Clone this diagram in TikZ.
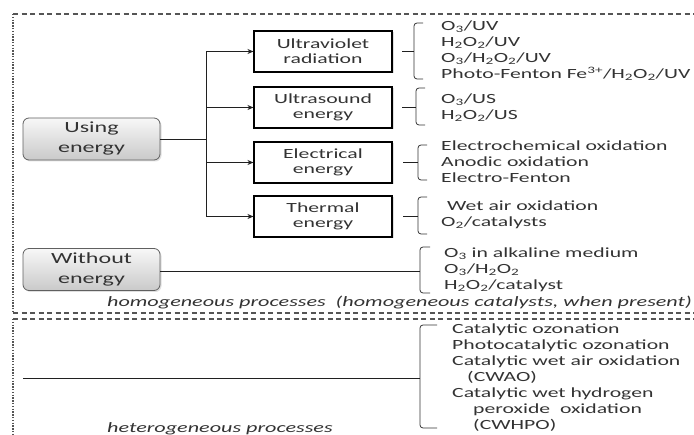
\documentclass[tikz,border=0pt]{standalone}
\usepackage{fontspec}
\setmainfont{Carlito}[FakeStretch=1.55]
\usetikzlibrary{arrows.meta,shadows}

\definecolor{ink}{HTML}{333333}
\definecolor{frame}{HTML}{555555}

\tikzset{
  energybox/.style={rounded corners=6pt, draw=gray!75!black, line width=0.8pt,
    top color=gray!6, bottom color=gray!42, minimum width=137pt, minimum height=42pt,
    inner sep=0pt, align=center, text=ink, font=\fontsize{15.5}{20}\selectfont,
    drop shadow={shadow xshift=1.5pt, shadow yshift=-1.5pt, opacity=0.25}},
  kindbox/.style={draw=black, line width=1.1pt, fill=white, minimum width=138pt,
    minimum height=41pt, inner sep=0pt, align=center, text=ink,
    font=\fontsize{14}{15}\selectfont,
    drop shadow={shadow xshift=1.5pt, shadow yshift=-1.5pt, opacity=0.25}},
  itemlist/.style={anchor=west, align=left, inner sep=0pt, text=ink,
    font=\fontsize{14}{16}\selectfont},
  caption/.style={anchor=west, inner sep=0pt, text=ink,
    font=\fontsize{14.3}{16}\selectfont\itshape},
  flow/.style={draw=gray!25!black, line width=0.8pt},
  flowarrow/.style={flow, -{Stealth[length=6pt,width=5pt]}},
  bracket/.style={draw=gray!40!black, line width=0.8pt, rounded corners=3pt},
  dashrule/.style={draw=frame, line width=1.1pt, dash pattern=on 5pt off 3.5pt},
  dotrule/.style={draw=frame, line width=1.3pt, dash pattern=on 1.4pt off 1.4pt},
}

% x, top, bottom, hook length of a list bracket
\newcommand\listbracket[4]{%
  \draw[bracket] ({#1+#4},#2) -- (#1,#2) -- (#1,#3) -- ({#1+#4},#3);}

\begin{document}
\begin{tikzpicture}[x=1pt,y=-1pt]
\useasboundingbox (0,0) rectangle (694,435);

% frames of the two process families
\draw[dashrule] (13,14) -- (694,14);
\draw[dotrule] (13,14) -- (13,313);
\draw[dashrule] (13,313) -- (694,313);
\draw[dashrule] (13,319) -- (694,319);
\draw[dotrule] (13,319) -- (13,435);

% main categories
\node[energybox] (use) at (91.5,139) {Using\\energy};
\node[energybox] (woe) at (91.5,269.5) {Without\\energy};

% energy sources
\node[kindbox] (uv) at (323,51.5) {Ultraviolet\\radiation};
\node[kindbox] (us) at (323,107.5) {Ultrasound\\energy};
\node[kindbox] (el) at (323,162.5) {Electrical\\energy};
\node[kindbox] (th) at (323,216.5) {Thermal\\energy};

% branching from "Using energy"
\coordinate (fork) at (206,139);
\draw[flow] (use.east) -- (fork);
\draw[flow] (206,51.5) -- (206,216.5);
\draw[flowarrow] (fork |- uv) -- (uv.west);
\draw[flowarrow] (fork |- us) -- (us.west);
\draw[flowarrow] (fork |- el) -- (el.west);
\draw[flowarrow] (fork |- th) -- (th.west);

% brackets and their stems
\listbracket{414}{23}{79}{9}
\listbracket{416}{88}{125}{9}
\listbracket{418}{145}{180}{9}
\listbracket{418}{197}{234}{9}
\listbracket{420}{247}{293}{10}
\listbracket{420}{325}{428}{17}

\coordinate (uvs) at (402,51);   \coordinate (uvb) at (414,51);
\coordinate (uss) at (402,107);  \coordinate (usb) at (416,107);
\coordinate (els) at (403,162);  \coordinate (elb) at (418,162);
\coordinate (ths) at (403,216);  \coordinate (thb) at (418,216);
\coordinate (woeb) at (420,271);
\coordinate (het) at (23,378);   \coordinate (hetb) at (420,378);
\draw[flow] (uvs) -- (uvb);
\draw[flow] (uss) -- (usb);
\draw[flow] (els) -- (elb);
\draw[flow] (ths) -- (thb);
\draw[flow] (woe.east |- woeb) -- (woeb);
\draw[flow] (het) -- (hetb);

% processes
\node[itemlist] (uvl) at (441,51) {O\textsubscript{3}/UV\\
  H\textsubscript{2}O\textsubscript{2}/UV\\
  O\textsubscript{3}/H\textsubscript{2}O\textsubscript{2}/UV\\
  Photo-Fenton Fe\textsuperscript{3+}/H\textsubscript{2}O\textsubscript{2}/UV};
\node[itemlist] (usl) at (441,108) {O\textsubscript{3}/US\\
  H\textsubscript{2}O\textsubscript{2}/US};
\node[itemlist] (ell) at (441,162) {Electrochemical oxidation\\
  Anodic oxidation\\Electro-Fenton};
\node[itemlist] (thl) at (441,215) {\hspace{6pt}Wet air oxidation\\
  O\textsubscript{2}/catalysts};
\node[itemlist] (woel) at (444,270) {O\textsubscript{3} in alkaline medium\\
  O\textsubscript{3}/H\textsubscript{2}O\textsubscript{2}\\
  H\textsubscript{2}O\textsubscript{2}/catalyst};
\node[itemlist] (hetl) at (452,377.5) {Catalytic ozonation\\
  Photocatalytic ozonation\\
  Catalytic wet air oxidation\\
  \hspace{15pt}(CWAO)\\
  Catalytic wet hydrogen\\
  \hspace{21pt}peroxide\ \ oxidation\\
  \hspace{21pt}(CWHPO)};

% family captions
\node[caption] (homc) at (107,303) {homogeneous processes\ \ (homogeneous catalysts, when present)};
\node[caption] (hetc) at (107,429) {heterogeneous processes};
\end{tikzpicture}
\end{document}
